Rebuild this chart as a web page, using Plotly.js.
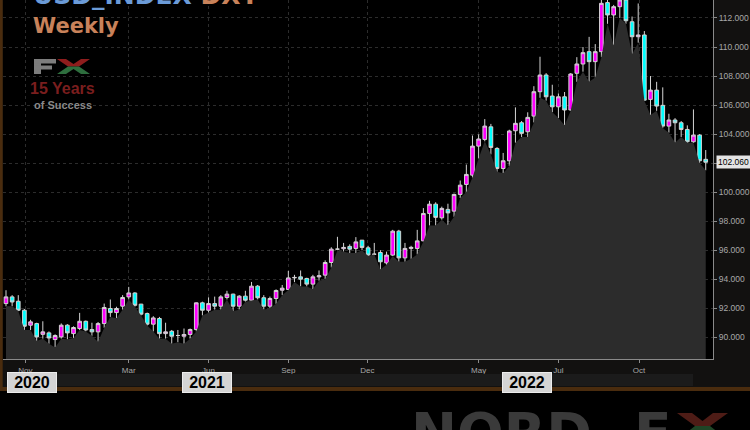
<!DOCTYPE html>
<html><head><meta charset="utf-8">
<script src="https://cdn.plot.ly/plotly-3.0.1.min.js"></script>
<style>html,body{margin:0;padding:0;background:#000;}#chart{width:750px;height:430px;}</style>
</head><body><div id="chart"></div>
<script>
const weeks = ['2020-11-09','2020-11-16','2020-11-23','2020-11-30','2020-12-07','2020-12-14','2020-12-21','2020-12-28',
'2021-01-04','2021-01-11','2021-01-18','2021-01-25','2021-02-01','2021-02-08','2021-02-15','2021-02-22',
'2021-03-01','2021-03-08','2021-03-15','2021-03-22','2021-03-29','2021-04-05','2021-04-12','2021-04-19','2021-04-26',
'2021-05-03','2021-05-10','2021-05-17','2021-05-24','2021-05-31','2021-06-07','2021-06-14','2021-06-21','2021-06-28',
'2021-07-05','2021-07-12','2021-07-19','2021-07-26','2021-08-02','2021-08-09','2021-08-16','2021-08-23','2021-08-30',
'2021-09-06','2021-09-13','2021-09-20','2021-09-27','2021-10-04','2021-10-11','2021-10-18','2021-10-25',
'2021-11-01','2021-11-08','2021-11-15','2021-11-22','2021-11-29','2021-12-06','2021-12-13','2021-12-20','2021-12-27',
'2022-01-03','2022-01-10','2022-01-17','2022-01-24','2022-01-31','2022-02-07','2022-02-14','2022-02-21','2022-02-28',
'2022-03-07','2022-03-14','2022-03-21','2022-03-28','2022-04-04','2022-04-11','2022-04-18','2022-04-25',
'2022-05-02','2022-05-09','2022-05-16','2022-05-23','2022-05-30','2022-06-06','2022-06-13','2022-06-20','2022-06-27',
'2022-07-04','2022-07-11','2022-07-18','2022-07-25','2022-08-01','2022-08-08','2022-08-15','2022-08-22','2022-08-29',
'2022-09-05','2022-09-12','2022-09-19','2022-09-26','2022-10-03','2022-10-10','2022-10-17','2022-10-24','2022-10-31',
'2022-11-07','2022-11-14','2022-11-21','2022-11-28','2022-12-05','2022-12-12','2022-12-19','2022-12-26',
'2023-01-02','2023-01-09','2023-01-16'];

const openP = [92.32,92.78,92.48,91.86,90.83,90.94,90.20,90.30,
89.84,90.02,90.83,90.25,90.60,91.10,90.53,90.37,
90.94,91.98,91.70,92.14,92.78,93.05,92.28,91.63,90.90,
91.29,90.25,90.41,90.12,90.07,90.19,90.53,92.37,91.86,
92.32,92.14,92.74,92.97,92.14,92.83,92.55,93.52,92.72,
92.14,92.67,93.24,93.29,94.09,94.16,94.05,93.66,
94.16,94.28,95.15,96.07,96.10,96.26,96.12,96.69,96.16,
95.72,95.84,95.12,95.66,97.31,95.47,96.12,96.12,96.64,
98.53,99.17,98.23,98.81,98.69,99.84,100.53,101.17,
103.17,103.63,104.50,103.01,101.63,102.16,104.23,104.78,104.16,
105.24,106.92,108.07,106.62,105.88,106.57,105.66,108.19,108.83,
109.68,108.99,109.68,113.06,112.21,112.78,113.24,111.74,110.71,
110.83,106.39,107.03,105.98,104.55,104.97,104.78,104.32,
103.47,103.93,102.26];

const highP = [93.24,92.90,92.90,91.95,91.20,91.00,91.10,90.40,
90.20,90.95,90.90,90.75,91.68,91.15,91.00,91.05,
92.32,92.60,92.10,92.90,93.47,93.10,92.30,91.70,91.45,
91.40,91.00,90.50,90.50,90.60,90.60,92.40,92.45,92.75,
92.80,92.90,93.20,93.00,92.90,93.20,93.81,93.60,92.90,
92.80,93.30,93.60,94.57,94.30,94.60,94.10,94.30,
94.60,95.30,96.20,96.92,96.50,96.40,96.90,96.70,96.30,
96.50,96.00,95.90,97.40,97.40,96.50,96.30,97.40,98.90,
99.40,99.30,99.00,99.20,99.90,100.80,101.90,103.90,
103.98,105.03,104.70,103.10,102.70,104.30,105.84,104.90,105.50,
107.30,109.33,108.20,107.40,106.80,106.90,108.20,109.30,110.00,
110.70,110.20,113.30,114.78,112.90,113.90,113.90,112.10,113.00,
111.10,108.00,107.60,107.22,105.40,105.10,104.90,104.60,
105.70,104.00,102.90];

const lowP = [92.13,92.13,91.80,90.50,90.50,89.74,89.90,89.55,
89.30,89.90,89.85,89.95,90.50,90.40,90.10,89.68,
90.65,91.40,91.30,91.90,92.60,92.10,91.50,90.80,90.40,
89.90,89.90,89.55,89.65,89.55,89.90,90.40,91.50,91.70,
91.90,91.90,92.60,91.80,91.90,92.45,92.50,92.60,91.90,
92.00,92.30,92.90,93.25,93.80,93.50,93.50,93.30,
93.90,94.00,94.80,96.00,95.90,95.80,95.80,96.00,95.60,
95.70,94.67,95.00,95.60,95.20,95.20,95.40,95.70,96.60,
97.70,97.70,98.10,97.70,98.30,99.60,100.00,101.00,
102.32,103.50,102.60,101.40,101.30,101.80,103.40,103.80,103.80,
104.80,106.50,106.30,105.50,105.10,104.60,105.60,107.60,108.30,
107.60,107.90,109.30,111.60,110.10,112.00,111.60,109.50,110.30,
106.30,105.31,105.60,104.40,104.10,103.40,103.80,103.40,
103.40,102.00,101.50];

const closeP = [92.78,92.43,91.86,90.76,91.06,90.02,90.37,89.95,
90.12,90.83,90.30,90.67,91.10,90.50,90.37,90.94,
92.05,91.70,91.98,92.74,93.05,92.20,91.59,90.90,91.33,
90.25,90.37,90.07,90.12,90.19,90.53,92.37,91.86,92.32,
92.14,92.78,92.97,92.14,92.83,92.55,93.52,92.72,92.14,
92.67,93.22,93.38,94.09,94.12,94.00,93.66,94.16,
94.23,95.15,96.07,96.07,96.19,96.07,96.57,96.19,95.66,
95.72,95.20,95.66,97.31,95.47,96.12,96.19,96.64,98.53,
99.17,98.26,98.88,98.57,99.84,100.48,101.22,103.17,
103.66,104.55,103.08,101.63,102.16,104.21,104.74,104.05,105.15,
106.92,108.07,106.57,105.88,106.57,105.66,108.14,108.83,109.61,
108.99,109.68,113.01,112.21,112.78,113.24,111.81,110.71,110.83,
106.34,107.03,105.93,104.55,104.97,104.78,104.32,103.47,
103.93,102.16,102.06];

const tickDates = ['2020-12-01','2021-03-29','2021-06-28','2021-09-27','2021-12-26','2022-05-02','2022-08-01','2022-11-01'];
const tickLabels = ['Nov','Mar','Jun','Sep','Dec','May','Jul','Oct'];
const yearLabels = ['2020','2021','2022'];
const lastPrice = 102.06;

// layout geometry helpers (pixels -> paper)
const W = 750, H = 430, ML = 3, MR = 37, MT = 0, MB = 71;
const PW = W - ML - MR, PH = H - MT - MB;
const px = x => (x - ML) / PW;
const py = y => (MT + PH - y) / PH;
function rect(x0, y0, x1, y1, color) {
  return {type:'rect', xref:'paper', yref:'paper', x0:px(x0), x1:px(x1), y0:py(y1), y1:py(y0),
          fillcolor:color, line:{width:0}, layer:'above'};
}
function poly(pts, color) {
  return {type:'path', xref:'paper', yref:'paper',
          path:'M' + pts.map(p => px(p[0]) + ',' + py(p[1])).join(' L') + ' Z',
          fillcolor:color, line:{width:0}, layer:'above'};
}

const area = {
  type:'scatter', mode:'lines', x:weeks, y:lowP, fill:'tozeroy',
  fillcolor:'#2c2c2c', line:{width:0, color:'#2c2c2c'}, hoverinfo:'skip', showlegend:false
};
const candles = {
  type:'candlestick', x:weeks, open:openP, high:highP, low:lowP, close:closeP,
  increasing:{fillcolor:'#ff00ff', line:{color:'#d4d4d4', width:1}},
  decreasing:{fillcolor:'#00ffff', line:{color:'#d4d4d4', width:1}},
  whiskerwidth:0, showlegend:false
};

const yearCenters = [32, 206.5, 527];
const annotations = [
  {xref:'paper', yref:'paper', x:px(31), y:py(12), xanchor:'left', yanchor:'bottom', showarrow:false,
   text:'<span style="color:#6b9bd8">USD_INDEX</span> <span style="color:#c8825a">DXY</span>',
   font:{family:'DejaVu Sans', size:25, weight:'bold'}},
  {xref:'paper', yref:'paper', x:px(31), y:py(12), xanchor:'left', yanchor:'top', showarrow:false,
   text:'<b>Weekly</b>', font:{family:'DejaVu Sans', size:21, color:'#c8825a'}},
  {xref:'paper', yref:'paper', x:px(62.5), y:py(98.5), xanchor:'center', yanchor:'bottom', showarrow:false,
   borderpad:0, text:'<b>15 Years</b>', font:{family:'Liberation Sans', size:16, color:'#7a1e1e'}},
  {xref:'paper', yref:'paper', x:px(62.5), y:py(98.5), xanchor:'center', yanchor:'top', showarrow:false,
   borderpad:0, text:'<b>of Success</b>', font:{family:'Liberation Sans', size:11, color:'#8a8a8a'}},
  {xref:'paper', yref:'y', x:1, y:lastPrice, xanchor:'left', yanchor:'middle', xshift:3, showarrow:false,
   text:lastPrice.toFixed(3), bgcolor:'#e4e4e4', borderpad:1,
   font:{family:'Liberation Sans', size:8.5, color:'#000'}},
  {xref:'paper', yref:'paper', x:px(409), y:py(399), xanchor:'left', yanchor:'top', showarrow:false,
   text:'<b>NORD</b>', font:{family:'DejaVu Sans', size:55, color:'#3a3a3a'}},
  {xref:'paper', yref:'paper', x:px(632), y:py(399), xanchor:'left', yanchor:'top', showarrow:false,
   text:'<b>F</b>', font:{family:'DejaVu Sans', size:55, color:'#3a3a3a'}}
];
yearLabels.forEach((t, i) => annotations.push({
  xref:'paper', yref:'paper', x:px(yearCenters[i]), y:py(382.5), xanchor:'center', yanchor:'middle',
  showarrow:false, text:'<b>' + t + '</b>', bgcolor:'#d4d4d4', bordercolor:'#ececec', borderwidth:1,
  borderpad:2, width:44, height:15, font:{family:'Liberation Sans', size:16, color:'#000'}
}));

const shapes = [
  rect(57, 374, 693, 386, '#1b1b1b'),
  rect(0, 387, 750, 391, '#4a2c0e'),
  rect(0, 391, 750, 430, '#000000'),
  rect(0, 0, 2.7, 391, '#4a2c0e'),
  // small FX logo
  rect(34, 59, 41, 74, '#7d7d7d'),
  rect(34, 59, 56, 63.5, '#7d7d7d'),
  rect(34, 65.5, 52, 69.5, '#7d7d7d'),
  poly([[57,59],[66,59],[73.5,64],[81,59],[90,59],[79,66.5],[68,66.5]], '#8e1d1d'),
  poly([[68,66.5],[79,66.5],[90,74],[81,74],[73.5,69],[66,74],[57,74]], '#2e6e3e'),
  // watermark X
  poly([[677,413],[692,413],[702.5,421],[713,413],[728,413],[710,426],[695,426]], '#4e1c16'),
  poly([[695,426],[710,426],[728,440],[713,440],[702.5,432],[692,440],[677,440]], '#1f4526')
];

const layout = {
  width:W, height:H, margin:{l:ML, r:MR, t:MT, b:MB},
  paper_bgcolor:'#121110', plot_bgcolor:'#000000',
  showlegend:false, boxgap:0.15,
  xaxis:{type:'date', range:['2020-11-05 14:00','2023-01-24 07:00'],
    tickvals:tickDates, ticktext:tickLabels, tickmode:'array',
    showgrid:true, gridcolor:'#2c2c2c', griddash:'3px,3px', gridwidth:1,
    showline:true, linecolor:'#8a8a8a', linewidth:1, ticks:'outside', ticklen:3, tickcolor:'#8a8a8a',
    tickfont:{family:'Liberation Sans', size:8, color:'#a8a8a8'}, rangeslider:{visible:false},
    zeroline:false, fixedrange:true},
  yaxis:{side:'right', range:[88.5, 113.24], tick0:0, dtick:2, tickformat:'.3f',
    showgrid:true, gridcolor:'#2c2c2c', griddash:'3px,3px', gridwidth:1,
    showline:true, linecolor:'#8a8a8a', linewidth:1, ticks:'outside', ticklen:3, tickcolor:'#8a8a8a',
    tickfont:{family:'Liberation Sans', size:8.5, color:'#a8a8a8'}, zeroline:false, fixedrange:true},
  annotations:annotations, shapes:shapes
};

Plotly.newPlot('chart', [area, candles], layout, {displayModeBar:false, staticPlot:true});
</script></body></html>
